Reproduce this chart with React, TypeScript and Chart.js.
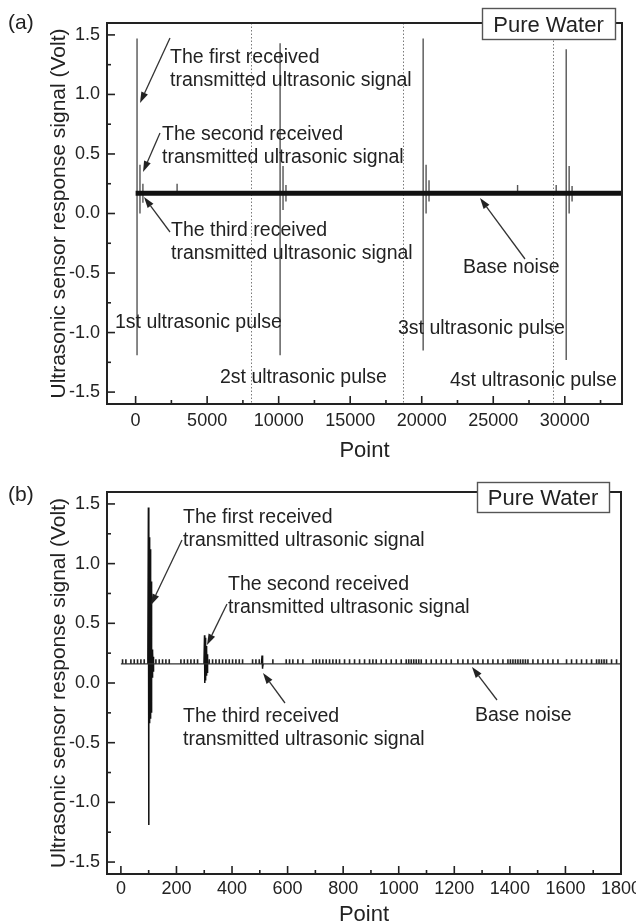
import React, { useEffect, useRef } from "react";
import { Chart, registerables } from "chart.js";

Chart.register(...registerables);

// ---------- Panel (a): four ultrasonic pulses over the full record ----------
const pulseStartA = [100, 10100, 20100, 30100];
const firstMaxA = [1.47, 1.43, 1.47, 1.38];
const firstMinA = [-1.19, -1.19, -1.15, -1.23];
const secondMaxA = [0.41, 0.4, 0.41, 0.4];
const secondMinA = [0.0, 0.03, 0.0, 0.0];
const thirdMaxA = [0.25, 0.24, 0.28, 0.23];
const thirdMinA = [0.09, 0.1, 0.1, 0.1];
const secondEchoDelay = 205;
const thirdEchoDelay = 410;
const glitchXA = [2900, 26700, 29400];
const glitchMaxA = [0.25, 0.24, 0.24];
const baseLevelA = 0.17;
const recordEndA = 34000;
const pulseBoundA = [8100, 18700, 29200];

// ---------- Panel (b): first 1800 points ----------
const baseLevelB = 0.16;
const noiseTopB = 0.2;
const recordEndB = 1800;
const noiseXB = [
  6, 18, 36, 48, 60, 72, 84, 126, 138, 150, 162, 174, 216, 228, 240, 252, 264,
  276, 318, 330, 342, 354, 366, 378, 390, 402, 414, 426, 438, 474, 486, 498,
  547, 595, 607, 619, 637, 655, 691, 703, 715, 727, 739, 751, 763, 775, 787,
  805, 823, 841, 859, 877, 895, 907, 919, 937, 955, 973, 991, 1009, 1027, 1036,
  1045, 1054, 1063, 1072, 1081, 1099, 1117, 1135, 1153, 1171, 1189, 1213, 1231,
  1249, 1267, 1285, 1303, 1321, 1339, 1357, 1375, 1393, 1402, 1411, 1420, 1429,
  1438, 1447, 1456, 1465, 1483, 1501, 1519, 1537, 1555, 1573, 1604, 1622, 1640,
  1658, 1676, 1694, 1712, 1721, 1730, 1739, 1748, 1766, 1784,
];
const firstEchoXB = [97, 99, 100, 101, 102, 103, 104, 105, 106, 107, 108, 109, 110, 111, 112, 113, 114, 115, 116, 117, 118];
const firstEchoYB = [0.16, 1.47, -1.19, 1.27, -0.33, 1.22, -0.32, 1.12, -0.3, 1.0, -0.28, 0.85, -0.25, 0.3, 0.05, 0.28, 0.07, 0.26, 0.1, 0.22, 0.16];
const secondEchoXB = [299, 301, 302, 303, 304, 305, 306, 307, 308, 309, 310, 311, 312, 313, 314];
const secondEchoYB = [0.16, 0.4, 0.0, 0.38, 0.02, 0.35, 0.04, 0.31, 0.06, 0.27, 0.09, 0.24, 0.12, 0.2, 0.16];
const thirdEchoXB = [506, 508, 509, 510, 511, 512];
const thirdEchoYB = [0.16, 0.23, 0.12, 0.21, 0.13, 0.16];

// ---------- axis ticks ----------
const yTicks = [-1.5, -1.25, -1.0, -0.75, -0.5, -0.25, 0, 0.25, 0.5, 0.75, 1.0, 1.25, 1.5];
const yLabelStep = 0.5;
const xTicksA = [0, 2500, 5000, 7500, 10000, 12500, 15000, 17500, 20000, 22500, 25000, 27500, 30000, 32500];
const xLabelStepA = 5000;
const xTicksB = [0, 100, 200, 300, 400, 500, 600, 700, 800, 900, 1000, 1100, 1200, 1300, 1400, 1500, 1600, 1700, 1800];
const xLabelStepB = 200;

const FONT = '"Liberation Sans", Arial, Helvetica, sans-serif';
const INK = "#222";

type Pt = { x: number; y: number | null };

function verticalSegments(xs: number[], tops: number[], bottoms: number[]): Pt[] {
  const out: Pt[] = [];
  xs.forEach((x, i) => {
    out.push({ x, y: tops[i] }, { x, y: bottoms[i] }, { x, y: null });
  });
  return out;
}

function trace(xs: number[], ys: number[]): Pt[] {
  return xs.map((x, i) => ({ x, y: ys[i] }));
}

function isMultiple(v: number, step: number) {
  const r = v / step;
  return Math.abs(r - Math.round(r)) < 1e-6;
}

type Note = { text: string[]; x: number; y: number };
type Arrow = { from: [number, number]; to: [number, number] };
type Decor = {
  tag: string;
  tagBaseline: number;
  box: { l: number; t: number; r: number; b: number; baseline: number };
  notes: Note[];
  arrows: Arrow[];
  separators: number[];
  yTitleX: number;
  xTitleBaseline: number;
  xLabelCenter: number;
  xMajor: number;
  yMajor: number;
};

function drawArrow(ctx: CanvasRenderingContext2D, a: Arrow) {
  const [x1, y1] = a.from;
  const [x2, y2] = a.to;
  const ang = Math.atan2(y2 - y1, x2 - x1);
  const len = 11;
  const half = 3.6;
  const bx = x2 - Math.cos(ang) * len;
  const by = y2 - Math.sin(ang) * len;
  ctx.beginPath();
  ctx.moveTo(x1, y1);
  ctx.lineTo(bx, by);
  ctx.stroke();
  ctx.beginPath();
  ctx.moveTo(x2, y2);
  ctx.lineTo(bx + Math.sin(ang) * half, by - Math.cos(ang) * half);
  ctx.lineTo(bx - Math.sin(ang) * half, by + Math.cos(ang) * half);
  ctx.closePath();
  ctx.fill();
}

function decorPlugin(d: Decor) {
  return {
    id: "decor",
    beforeDatasetsDraw(chart: any) {
      const { ctx, chartArea: a, scales } = chart;
      ctx.save();
      ctx.strokeStyle = "#7a7a7a";
      ctx.lineWidth = 1;
      ctx.setLineDash([1.5, 2]);
      for (const v of d.separators) {
        const px = Math.round(scales.x.getPixelForValue(v)) + 0.5;
        ctx.beginPath();
        ctx.moveTo(px, a.top);
        ctx.lineTo(px, a.bottom);
        ctx.stroke();
      }
      ctx.restore();
    },
    afterDraw(chart: any) {
      const { ctx, chartArea: a, scales } = chart;
      ctx.save();
      // inward tick marks and x tick labels
      ctx.strokeStyle = INK;
      ctx.fillStyle = INK;
      ctx.lineWidth = 1.6;
      ctx.font = `18px ${FONT}`;
      ctx.textAlign = "center";
      ctx.textBaseline = "middle";
      for (const t of scales.x.ticks) {
        const px = scales.x.getPixelForValue(t.value);
        const major = isMultiple(t.value, d.xMajor);
        ctx.beginPath();
        ctx.moveTo(px, a.bottom);
        ctx.lineTo(px, a.bottom - (major ? 8 : 4));
        ctx.stroke();
        if (major) ctx.fillText(String(t.value), px, d.xLabelCenter);
      }
      for (const t of scales.y.ticks) {
        const py = scales.y.getPixelForValue(t.value);
        const len = isMultiple(t.value, d.yMajor) ? 8 : 4;
        ctx.beginPath();
        ctx.moveTo(a.left, py);
        ctx.lineTo(a.left + len, py);
        ctx.stroke();
      }
      // frame
      ctx.lineWidth = 2;
      ctx.strokeRect(a.left, a.top, a.right - a.left, a.bottom - a.top);

      // axis titles
      ctx.font = `22px ${FONT}`;
      ctx.textAlign = "center";
      ctx.textBaseline = "alphabetic";
      ctx.fillText("Point", (a.left + a.right) / 2, d.xTitleBaseline);
      ctx.save();
      ctx.translate(d.yTitleX, (a.top + a.bottom) / 2);
      ctx.rotate(-Math.PI / 2);
      ctx.font = `21px ${FONT}`;
      ctx.textBaseline = "middle";
      ctx.fillText("Ultrasonic sensor response signal (Volt)", 0, 0);
      ctx.restore();

      // panel tag
      ctx.textAlign = "left";
      ctx.font = `21px ${FONT}`;
      ctx.fillText(d.tag, 8, d.tagBaseline);

      // annotations
      ctx.font = `19.5px ${FONT}`;
      for (const n of d.notes) {
        n.text.forEach((line, i) => ctx.fillText(line, n.x, n.y + i * 23));
      }
      ctx.strokeStyle = "#333";
      ctx.fillStyle = "#222";
      ctx.lineWidth = 1.3;
      for (const ar of d.arrows) drawArrow(ctx, ar);

      // sample label box
      const b = d.box;
      ctx.fillStyle = "#fff";
      ctx.fillRect(b.l, b.t, b.r - b.l, b.b - b.t);
      ctx.strokeStyle = "#555";
      ctx.lineWidth = 1.4;
      ctx.strokeRect(b.l + 0.5, b.t + 0.5, b.r - b.l, b.b - b.t);
      ctx.fillStyle = INK;
      ctx.font = `22px ${FONT}`;
      ctx.textAlign = "center";
      ctx.fillText("Pure Water", (b.l + b.r) / 2, b.baseline);
      ctx.restore();
    },
  };
}

function makeOptions(
  xMin: number,
  xMax: number,
  xTicks: number[],
  padTop: number,
  padRight: number,
  xAxisHeight: number
): any {
  return {
    responsive: false,
    animation: false,
    devicePixelRatio: 1,
    layout: { padding: { top: padTop, right: padRight, left: 0, bottom: 0 } },
    plugins: { legend: { display: false }, tooltip: { enabled: false } },
    elements: { point: { radius: 0 }, line: { tension: 0 } },
    scales: {
      x: {
        type: "linear",
        min: xMin,
        max: xMax,
        grid: { display: false, drawTicks: false },
        border: { display: false },
        ticks: { autoSkip: false, maxRotation: 0, display: false },
        afterBuildTicks: (s: any) => {
          s.ticks = xTicks.map((value) => ({ value }));
        },
        afterFit: (s: any) => {
          s.height = xAxisHeight;
          s.paddingLeft = 0;
          s.paddingRight = 0;
        },
      },
      y: {
        type: "linear",
        min: -1.6,
        max: 1.6,
        grid: { display: false, drawTicks: false },
        border: { display: false },
        ticks: {
          autoSkip: false,
          padding: 7,
          color: INK,
          font: { family: FONT, size: 18 },
          callback: (v: number) => (isMultiple(v, yLabelStep) ? v.toFixed(1) : ""),
        },
        afterBuildTicks: (s: any) => {
          s.ticks = yTicks.map((value) => ({ value }));
        },
        afterFit: (s: any) => {
          s.width = 107;
          s.paddingTop = 0;
          s.paddingBottom = 0;
        },
      },
    },
  };
}

const decorA: Decor = {
  tag: "(a)",
  tagBaseline: 29,
  box: { l: 482, t: 8, r: 615, b: 39, baseline: 32 },
  notes: [
    { text: ["The first received", "transmitted ultrasonic signal"], x: 170, y: 63 },
    { text: ["The second received", "transmitted ultrasonic signal"], x: 162, y: 140 },
    { text: ["The third received", "transmitted ultrasonic signal"], x: 171, y: 236 },
    { text: ["Base noise"], x: 463, y: 273 },
    { text: ["1st ultrasonic pulse"], x: 115, y: 328 },
    { text: ["2st ultrasonic pulse"], x: 220, y: 383 },
    { text: ["3st ultrasonic pulse"], x: 398, y: 334 },
    { text: ["4st ultrasonic pulse"], x: 450, y: 386 },
  ],
  arrows: [
    { from: [170, 38], to: [140, 103] },
    { from: [160, 133], to: [143, 172] },
    { from: [170, 232], to: [144, 197] },
    { from: [525, 259], to: [480, 198] },
  ],
  separators: pulseBoundA,
  yTitleX: 59,
  xTitleBaseline: 457,
  xLabelCenter: 421,
  xMajor: xLabelStepA,
  yMajor: yLabelStep,
};

const decorB: Decor = {
  tag: "(b)",
  tagBaseline: 39,
  box: { l: 477, t: 20, r: 609, b: 50, baseline: 43 },
  notes: [
    { text: ["The first received", "transmitted ultrasonic signal"], x: 183, y: 61 },
    { text: ["The second received", "transmitted ultrasonic signal"], x: 228, y: 128 },
    { text: ["The third received", "transmitted ultrasonic signal"], x: 183, y: 260 },
    { text: ["Base noise"], x: 475, y: 259 },
  ],
  arrows: [
    { from: [182, 78], to: [151, 143] },
    { from: [227, 142], to: [207, 183] },
    { from: [285, 241], to: [263, 211] },
    { from: [497, 238], to: [472, 205] },
  ],
  separators: [],
  yTitleX: 59,
  xTitleBaseline: 459,
  xLabelCenter: 427,
  xMajor: xLabelStepB,
  yMajor: yLabelStep,
};

export default function App() {
  const refA = useRef<HTMLCanvasElement>(null);
  const refB = useRef<HTMLCanvasElement>(null);

  useEffect(() => {
    const pulsesA: Pt[] = [
      ...verticalSegments(pulseStartA, firstMaxA, firstMinA),
      ...verticalSegments(pulseStartA.map((p) => p + secondEchoDelay), secondMaxA, secondMinA),
      ...verticalSegments(pulseStartA.map((p) => p + thirdEchoDelay), thirdMaxA, thirdMinA),
      ...verticalSegments(glitchXA, glitchMaxA, glitchXA.map(() => baseLevelA)),
    ];

    const chartA = new Chart(refA.current!, {
      type: "line",
      data: {
        datasets: [
          {
            data: [
              { x: 0, y: baseLevelA },
              { x: recordEndA, y: baseLevelA },
            ],
            borderColor: "#111",
            borderWidth: 5,
            pointRadius: 0,
          },
          {
            data: pulsesA as any,
            borderColor: "#555",
            borderWidth: 1.4,
            pointRadius: 0,
            spanGaps: false,
          },
        ],
      },
      options: makeOptions(-2000, 34000, xTicksA, 23, 14, 58),
      plugins: [decorPlugin(decorA)],
    });

    const echoStyle = { borderColor: "#111", borderWidth: 1.5, pointRadius: 0 };
    const chartB = new Chart(refB.current!, {
      type: "line",
      data: {
        datasets: [
          {
            data: [
              { x: 0, y: baseLevelB },
              { x: recordEndB, y: baseLevelB },
            ],
            borderColor: "#333",
            borderWidth: 1.3,
            pointRadius: 0,
          },
          {
            data: verticalSegments(noiseXB, noiseXB.map(() => noiseTopB), noiseXB.map(() => baseLevelB)) as any,
            borderColor: "#222",
            borderWidth: 1.6,
            pointRadius: 0,
            spanGaps: false,
          },
          { data: trace(firstEchoXB, firstEchoYB) as any, ...echoStyle },
          { data: trace(secondEchoXB, secondEchoYB) as any, ...echoStyle },
          { data: trace(thirdEchoXB, thirdEchoYB) as any, ...echoStyle },
        ],
      },
      options: makeOptions(-50, 1800, xTicksB, 30, 15, 50),
      plugins: [decorPlugin(decorB)],
    });

    return () => {
      chartA.destroy();
      chartB.destroy();
    };
  }, []);

  return (
    <div style={{ position: "absolute", left: 0, top: 0, width: 636, height: 924, background: "#fff" }}>
      <canvas ref={refA} width={636} height={462} style={{ display: "block" }} />
      <canvas ref={refB} width={636} height={462} style={{ display: "block" }} />
    </div>
  );
}
